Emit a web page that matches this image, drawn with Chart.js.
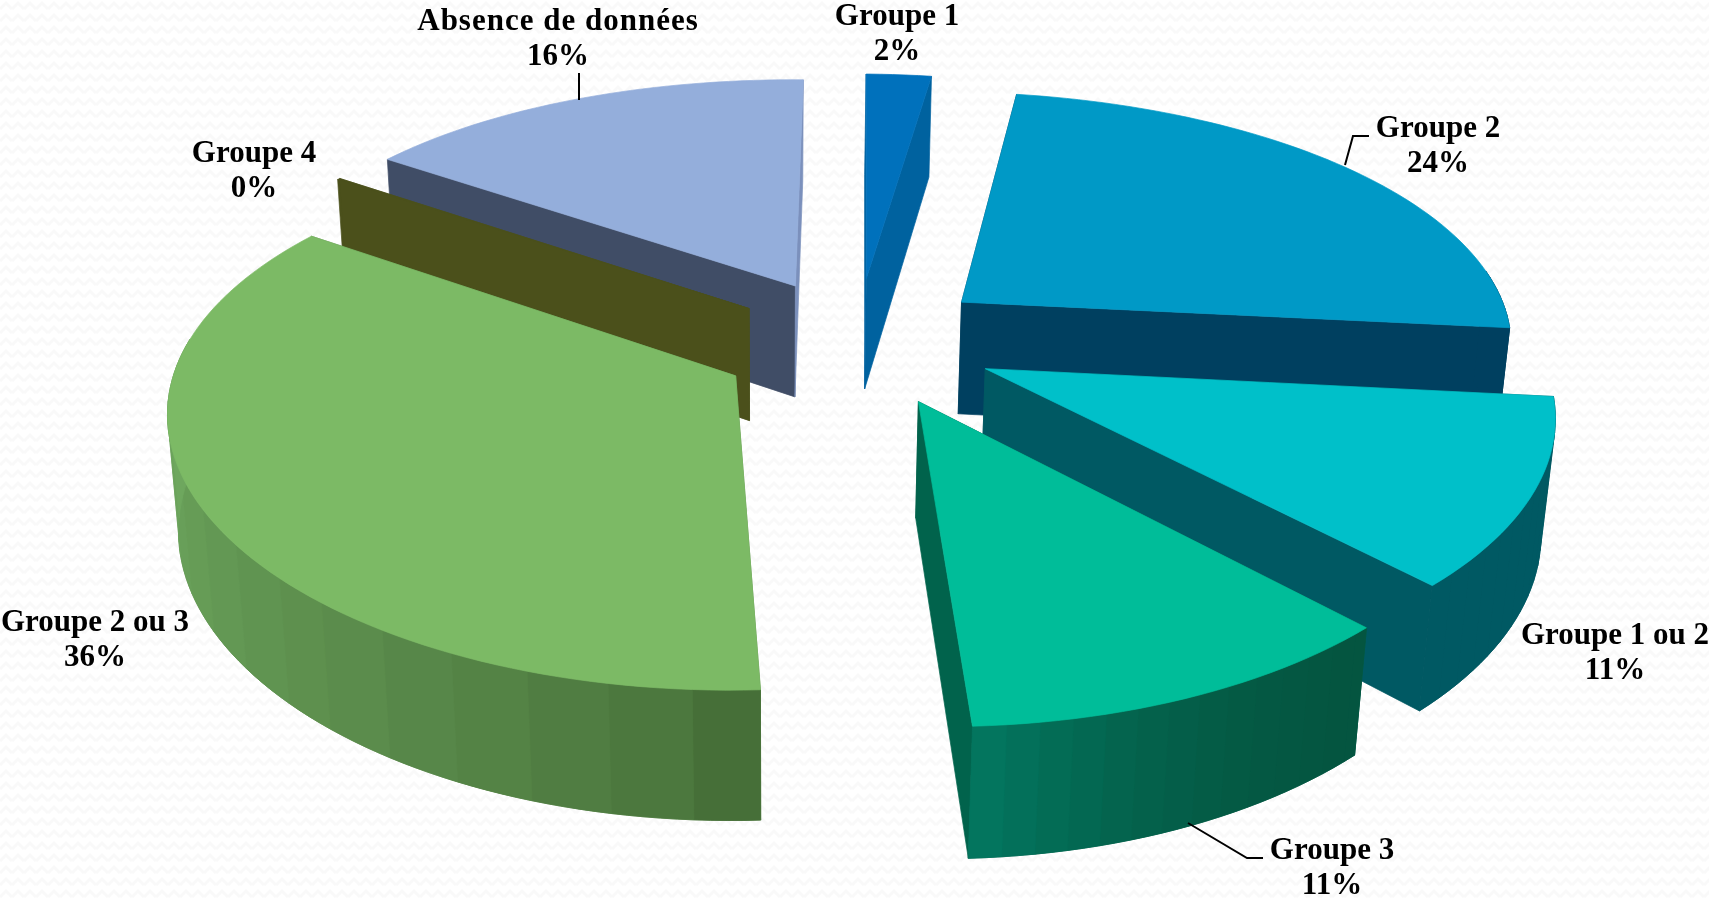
<!DOCTYPE html>
<html lang="fr">
<head>
<meta charset="utf-8">
<title>Groupes</title>
<script src="https://cdn.jsdelivr.net/npm/chart.js@4"></script>
<style>
  html, body { margin: 0; padding: 0; background-color: #ffffff; }
  body {
    background-image: url("data:image/svg+xml,%3Csvg xmlns='http://www.w3.org/2000/svg' width='12' height='12'%3E%3Cpolyline points='0,9 6,3 12,9' fill='none' stroke='%23f9f9f9' stroke-width='3'/%3E%3C/svg%3E");
  }
  canvas { display: block; }
</style>
</head>
<body>
<canvas id="pieChart" width="1709" height="899"></canvas>
<script>
const categories = ["Groupe 1", "Groupe 2", "Groupe 1 ou 2", "Groupe 3", "Groupe 2 ou 3", "Groupe 4", "Absence de données"];
const values = [2.2, 24.1, 11.4, 11.2, 35.5, 0.1, 15.5];
const percentLabels = ["2%", "24%", "11%", "11%", "36%", "0%", "16%"];

const sliceOffsets = [137, 139, 142, 149, 140, 124, 127];
// small corrections on top of the explosion, in pie plane pixels
const sliceNudges = [[2, 0], [0, 3], [0, 1], [1, -5], [4, 12], [-5, 5], [-2, -5]];
const topColors = ["#0071bc", "#0099c6", "#00c0c9", "#00bd99", "#7cba65", "#4b501b", "#94aedb"];
const startWallColors = ["#00629f", "#004060", "#005963", "#015a45", "#5a8a48", "#4b501b", "#404d66"];
const endWallColors = ["#00629f", "#004060", "#005963", "#01634c", "#5a8a48", "#4b501b", "#7b90bc"];
// outer wall shading: colour at the end angle, colour at the start angle, curve
const outerShades = [
  ["#00629f", "#00629f", 1], ["#004060", "#004060", 1], ["#005963", "#005963", 1],
  ["#03755e", "#045540", 2], ["#70aa60", "#466f38", 0.75], ["#4b501b", "#4b501b", 1], ["#404d66", "#404d66", 1]
];
const labelBoxes = [[897, 17], [1438, 129], [1615, 636], [1332, 851], [95, 623], [254, 154], [558, 22]];
const leaders = [
  [[579, 73], [579, 100]],
  [[1345, 165], [1353, 136], [1369, 136]],
  [[1188, 823], [1247, 858], [1263, 858]]
];

// camera of the fake 3D: horizon, centre of the pie, wall height
const cam = { vx: 770, horizon: -1300, h: 1640, q: 0.00028, qx: 0.00024, cu: 85, cv: -3 };
const BANDS = 14;

function project(X, Y) {
  const w = 1 - cam.q * (Y + cam.cv);
  const wx = 1 - cam.qx * (Y + cam.cv);
  return { x: cam.vx + (cam.cu + X) / wx, y: cam.horizon + cam.h / w, w: w };
}

function dropped(p) {
  const depth = 34.5 + 79 / p.w;
  return { x: p.x + (cam.vx - p.x) * depth / 6400, y: p.y + depth };
}

function poly(ctx, pts, color) {
  ctx.beginPath();
  pts.forEach((p, i) => i ? ctx.lineTo(p.x, p.y) : ctx.moveTo(p.x, p.y));
  ctx.closePath();
  ctx.fillStyle = color;
  ctx.strokeStyle = color;
  ctx.lineWidth = 0.7;
  ctx.fill();
  ctx.stroke();
}

function mix(a, b, t) {
  const pa = parseInt(a.slice(1), 16), pb = parseInt(b.slice(1), 16);
  const c = [16, 8, 0].map(s => Math.round(((pa >> s) & 255) * (1 - t) + ((pb >> s) & 255) * t));
  return "rgb(" + c.join(",") + ")";
}

function drawSlice(ctx, el, i) {
  const offset = sliceOffsets[i];
  const mid = (el.startAngle + el.endAngle) / 2;
  const ox = Math.cos(mid) * offset + sliceNudges[i][0];
  const oy = Math.sin(mid) * offset + sliceNudges[i][1];
  const r = el.outerRadius;
  const steps = Math.max(2, Math.round((el.endAngle - el.startAngle) / (Math.PI / 120)));
  const apex = project(ox, oy);
  const rim = [];
  for (let s = 0; s <= steps; s++) {
    const a = el.startAngle + (el.endAngle - el.startAngle) * s / steps;
    rim.push({ a: a, p: project(ox + Math.cos(a) * r, oy + Math.sin(a) * r) });
  }
  const first = rim[0].p, last = rim[steps].p;
  poly(ctx, [apex, first, dropped(first), dropped(apex)], startWallColors[i]);
  poly(ctx, [apex, last, dropped(last), dropped(apex)], endWallColors[i]);

  // outer wall, in flat bands like the reference, on a base so seams stay shut
  const shade = outerShades[i];
  const front = rim.filter(o => Math.sin(o.a) >= -0.15);
  const rimPts = front.map(o => o.p);
  if (rimPts.length > 1) {
    poly(ctx, rimPts.concat(rimPts.slice().reverse().map(dropped)), mix(shade[1], shade[0], 0.4));
  }
  let band = [];
  let bandId = -1;
  const flush = () => {
    if (band.length < 2) return;
    const t = Math.pow(bandId / (BANDS - 1), shade[2]);
    poly(ctx, band.concat(band.slice().reverse().map(dropped)), mix(shade[1], shade[0], t));
  };
  front.forEach((o, s) => {
    const id = Math.min(BANDS - 1, Math.floor(s / front.length * BANDS));
    if (id !== bandId) {
      flush();
      band = band.length ? [band[band.length - 1]] : [];
      bandId = id;
    }
    band.push(o.p);
  });
  flush();

  poly(ctx, [apex].concat(rim.map(o => o.p)), topColors[i]);
}

function depthKey(el, i) {
  const mid = (el.startAngle + el.endAngle) / 2;
  return Math.sin(mid) * (sliceOffsets[i] + el.outerRadius / 2);
}

const pie3d = {
  id: "pie3d",
  beforeDatasetsDraw(chart) {
    const ctx = chart.ctx;
    const arcs = chart.getDatasetMeta(0).data;
    const order = arcs.map((el, i) => i).sort((a, b) => depthKey(arcs[a], a) - depthKey(arcs[b], b));
    ctx.save();
    ctx.lineJoin = "round";
    order.forEach(i => drawSlice(ctx, arcs[i], i));
    ctx.restore();
    return false;
  },
  afterDraw(chart) {
    const ctx = chart.ctx;
    ctx.save();
    ctx.strokeStyle = "#000000";
    ctx.lineWidth = 2;
    leaders.forEach(line => {
      ctx.beginPath();
      line.forEach((p, i) => i ? ctx.lineTo(p[0], p[1]) : ctx.moveTo(p[0], p[1]));
      ctx.stroke();
    });
    ctx.fillStyle = "#000000";
    ctx.font = "bold 31px 'Liberation Serif'";
    ctx.textAlign = "center";
    ctx.textBaseline = "middle";
    categories.forEach((name, i) => {
      ctx.letterSpacing = name.length > 15 ? "1px" : "0px";
      ctx.fillText(name, labelBoxes[i][0], labelBoxes[i][1]);
      ctx.letterSpacing = "0px";
      ctx.fillText(percentLabels[i], labelBoxes[i][0], labelBoxes[i][1] + 35);
    });
    ctx.restore();
  }
};

new Chart(document.getElementById("pieChart"), {
  type: "pie",
  data: {
    labels: categories,
    datasets: [{
      data: values,
      backgroundColor: topColors,
      offset: sliceOffsets,
      borderWidth: 0
    }]
  },
  options: {
    responsive: false,
    animation: false,
    rotation: 1.3,
    radius: 552,
    layout: { padding: 0 },
    plugins: { legend: { display: false }, tooltip: { enabled: false } }
  },
  plugins: [pie3d]
});
</script>
</body>
</html>
